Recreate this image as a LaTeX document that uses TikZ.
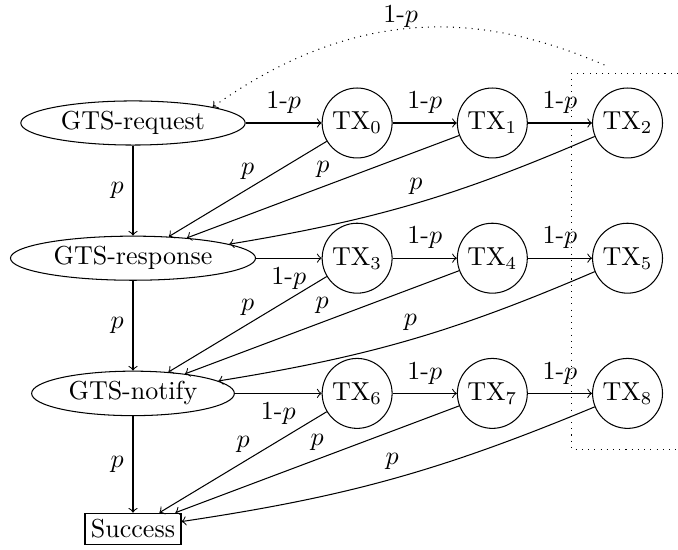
\documentclass[tikz,border=0pt]{standalone}
\usepackage{amsmath}
\usepackage{amssymb}
\usetikzlibrary{arrows,positioning,shapes.geometric}

\begin{document}
\begin{tikzpicture}[node distance=52pt,
	gts/.style={ellipse,draw,inner xsep=2.8pt,inner ysep=1.5pt},
	tx/.style={circle,draw,minimum size=26.9pt,inner sep=1pt},
	goal/.style={rectangle,draw,inner sep=2.3pt}]
  			\useasboundingbox (-51.15pt,-164.2pt) rectangle (209.6pt,47.3pt);

  			\node[gts]  (req)  []                {GTS-request};
  			\node[gts]  (resp) [below of=req]    {GTS-response};
  			\node[gts]  (ntfy) [below of=resp]   {GTS-notify};
  			\node[goal] (succ) [below of=ntfy]   {Success};
  			\node[tx]   (tx0)  [right of=req, node distance=86.2pt]  {TX$_0$};
  			\node[tx]   (tx1)  [right of=tx0]    {TX$_1$};
  			\node[tx]   (tx2)  [right of=tx1]    {TX$_2$};
  			\node[tx]   (tx3)  [below of=tx0]    {TX$_3$};
  			\node[tx]   (tx4)  [right of=tx3]    {TX$_4$};
  			\node[tx]   (tx5)  [right of=tx4]    {TX$_5$};
  			\node[tx]   (tx6)  [below of=tx3]    {TX$_6$};
  			\node[tx]   (tx7)  [right of=tx6]    {TX$_7$};
  			\node[tx]   (tx8)  [right of=tx7]    {TX$_8$};

  			\path[->] (req) edge node[above] {1-$p$} (tx0)
  			                edge node[left] {$p$} (resp)
  			         (tx0) edge node[above] {1-$p$} (tx1)
  			               edge node[above] {$p$} (resp)
  			         (tx1) edge node[above] {1-$p$} (tx2)
  			               edge node[above] {$p$} (resp)
  			         (tx2) edge [bend left=7] node[above] {$p$} (resp)
  			         (resp) edge node[below] {1-$p$} (tx3)
  			                edge node[left] {$p$} (ntfy)
  			         (tx3) edge node[above] {1-$p$} (tx4)
  			               edge node[above] {$p$} (ntfy)
  			         (tx4) edge node[above] {1-$p$} (tx5)
  			               edge node[above] {$p$} (ntfy)
  			         (tx5) edge [bend left=7] node[above] {$p$} (ntfy)
  			         (ntfy) edge node[below] {1-$p$} (tx6)
  			                edge node[left] {$p$} (succ)
  			         (tx6) edge node[above] {1-$p$} (tx7)
  			               edge node[above] {$p$} (succ)
  			         (tx7) edge node[above] {1-$p$} (tx8)
  			               edge node[above] {$p$} (succ)
  			         (tx8) edge [bend left=7] node[above] {$p$} (succ);

  			% dotted frame round the last column, open on the right
  			\coordinate (frametl) at ([xshift=-21.6pt,yshift=19.2pt]tx2.center);
  			\coordinate (framebl) at ([xshift=-21.6pt,yshift=-21.4pt]tx8.center);
  			\coordinate (frameedge) at (209.6pt,0pt);
  			\draw[dotted] (frametl -| frameedge) -- (frametl) -- (framebl) -- (framebl -| frameedge);

  			\coordinate (loopstart) at ([xshift=-8.9pt,yshift=22.3pt]tx2.center);
  			\draw[->,dotted] (loopstart) .. controls (141.2pt,39.6pt) and (91.2pt,49.2pt) .. (req.north east)
  			      node[pos=0.57,above,inner sep=0.5pt] {1-$p$};
\end{tikzpicture}
\end{document}
